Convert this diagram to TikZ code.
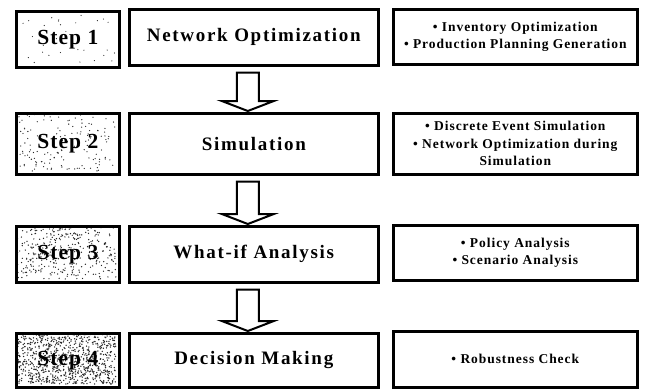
\documentclass[tikz,border=0pt]{standalone}
\usepackage{fontspec}
\setmainfont{Liberation Serif}
\newfontfamily\titlefont[LetterSpace=9]{Liberation Serif}
\newfontfamily\notefont[LetterSpace=7]{Liberation Serif}
\newfontfamily\stepfont[LetterSpace=5]{Liberation Serif}
\usetikzlibrary{calc}

\tikzset{
  box/.style={draw=black, line width=2.6pt, inner sep=2pt, anchor=north west, align=center},
  stepbox/.style={box, font=\stepfont\bfseries\fontsize{21.5}{23}\selectfont},
  mainbox/.style={box, font=\titlefont\bfseries\fontsize{19}{21}\selectfont},
  notebox/.style={box, font=\notefont\bfseries\fontsize{13.5}{17.5}\selectfont},
  blockarrow/.style={draw=black, line width=2pt, fill=white, line join=miter},
  speck/.style={fill=black!85}
}

\newcommand{\blockarrow}[2]{%
  % hollow down arrow from the bottom of #1 to the top of #2
  \path let \p1=($(#1.south)+(-6pt,0)$), \p2=($(#2.north)+(-6pt,0)$) in
    [blockarrow] (\x1-11pt,\y1-6pt) -- (\x1+11pt,\y1-6pt) -- (\x1+11pt,\y2+11pt)
    -- (\x1+26pt,\y2+11pt) -- (\x1,\y2+1pt) -- (\x1-26pt,\y2+11pt)
    -- (\x1-11pt,\y2+11pt) -- cycle;}

% random grain in the rectangle with top-left corner (#1,#2), size #3 x #4,
% #5 grains of radius #6
\newcommand{\grain}[6]{%
  \foreach \k in {1,...,#5}{
    \pgfmathsetmacro{\gx}{#1+2+rnd*(#3-4)}
    \pgfmathsetmacro{\gy}{#2+2+rnd*(#4-4)}
    \fill[speck] (\gx,\gy) circle (#6);
  }}

\begin{document}
\begin{tikzpicture}[x=1pt,y=-1pt]
\useasboundingbox (0,0) rectangle (647,388);
\pgfmathsetseed{7}

% grain behind the step labels
\grain{15}{10}{103}{56}{30}{0.6pt}
\grain{15}{112}{103}{61}{150}{0.65pt}
\grain{15}{225}{103}{56}{330}{0.7pt}
\grain{15}{332}{103}{54}{800}{0.75pt}

% step labels
\node[stepbox, minimum width=103pt, minimum height=56pt] (s1) at (15,10)  {Step 1};
\node[stepbox, minimum width=103pt, minimum height=61pt] (s2) at (15,112) {Step 2};
\node[stepbox, minimum width=103pt, minimum height=56pt] (s3) at (15,225) {Step 3};
\node[stepbox, minimum width=103pt, minimum height=54pt] (s4) at (15,332) {Step 4};

% stages
\node[mainbox, minimum width=249pt, minimum height=56pt] (m1) at (128,8)   {Network Optimization};
\node[mainbox, minimum width=249pt, minimum height=61pt] (m2) at (128,112) {Simulation};
\node[mainbox, minimum width=249pt, minimum height=56pt] (m3) at (128,225) {What-if Analysis};
\node[mainbox, minimum width=249pt, minimum height=54pt] (m4) at (128,332) {Decision Making};

% details
\node[notebox, minimum width=244pt, minimum height=55pt] (r1) at (392,8)
  {• Inventory Optimization\\• Production Planning Generation};
\node[notebox, minimum width=244pt, minimum height=61pt] (r2) at (392,112)
  {• Discrete Event Simulation\\• Network Optimization during\\Simulation};
\node[notebox, minimum width=244pt, minimum height=55pt] (r3) at (392,224)
  {• Policy Analysis\\• Scenario Analysis};
\node[notebox, minimum width=244pt, minimum height=56pt] (r4) at (392,330)
  {• Robustness Check};

% flow arrows
\blockarrow{m1}{m2}
\blockarrow{m2}{m3}
\blockarrow{m3}{m4}
\end{tikzpicture}
\end{document}
